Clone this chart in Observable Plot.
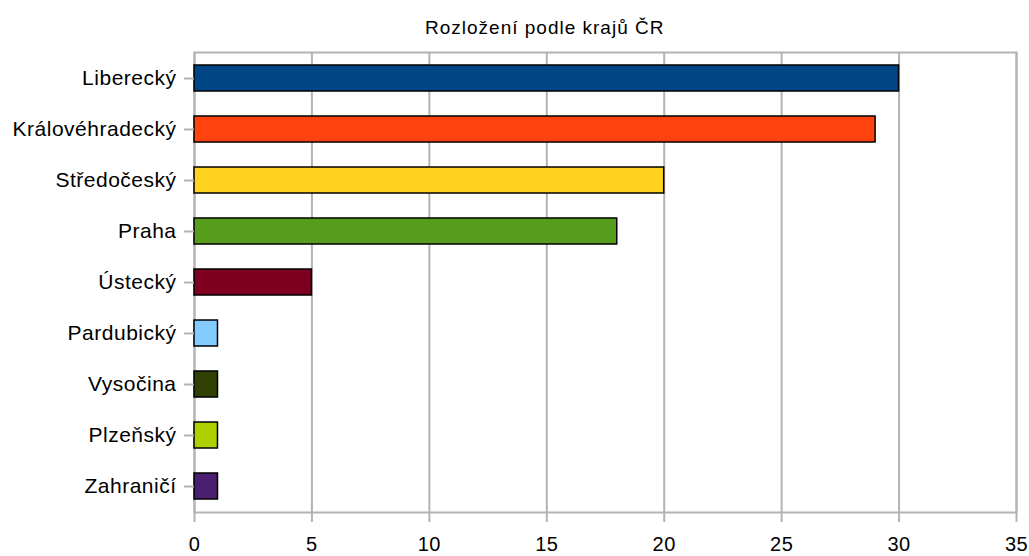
<!DOCTYPE html>
<html>
<head>
<meta charset="utf-8">
<script src="https://cdn.jsdelivr.net/npm/d3@7"></script>
<script src="https://cdn.jsdelivr.net/npm/@observablehq/plot@0.6"></script>
<style>
  html, body { margin: 0; padding: 0; background: #fff; }
  #title { height: 44px; line-height: 55px; font-family: "Liberation Sans", Arial, sans-serif; font-size: 19px; letter-spacing: 1px; color: #000; padding-left: 425px; white-space: nowrap; }
  #chart svg { display: block; }
</style>
</head>
<body>
<div id="title">Rozložení podle krajů ČR</div>
<div id="chart"></div>
<script>
const regions = ["Liberecký", "Královéhradecký", "Středočeský", "Praha", "Ústecký", "Pardubický", "Vysočina", "Plzeňský", "Zahraničí"];
const counts = [30, 29, 20, 18, 5, 1, 1, 1, 1];
const colors = ["#004586", "#ff420e", "#ffd320", "#579d1c", "#7e0021", "#83caff", "#314004", "#aecf00", "#4b1f6f"];
const xTicks = [0, 5, 10, 15, 20, 25, 30, 35];

const data = regions.map((r, i) => ({region: r, count: counts[i], color: colors[i]}));

const chart = Plot.plot({
  width: 1029,
  height: 512,
  marginLeft: 194,
  marginRight: 13,
  marginTop: 8,
  marginBottom: 44,
  style: {fontFamily: "'Liberation Sans', Arial, sans-serif", fontSize: "21px", letterSpacing: "0.5px", color: "#000", background: "#fff"},
  x: {domain: [0, 35], ticks: xTicks, label: null},
  y: {domain: regions, paddingInner: 0.5, paddingOuter: 0.25, label: null},
  marks: [
    Plot.gridX(xTicks, {stroke: "#b3b3b3", strokeOpacity: 1, strokeWidth: 2}),
    Plot.frame({stroke: "#b3b3b3", strokeWidth: 2}),
    Plot.barX(data, {x: "count", y: "region", fill: "color", stroke: "#000", strokeWidth: 1.5}),
    Plot.axisX(xTicks, {tickSize: 10, tickPadding: 14, stroke: "#b3b3b3", strokeWidth: 2, fill: "#000", fontSize: 20}),
    Plot.axisY({tickSize: 10, tickPadding: 8, stroke: "#b3b3b3", strokeWidth: 2, fill: "#000", fontSize: 21})
  ]
});
document.getElementById("chart").appendChild(chart);
</script>
</body>
</html>
